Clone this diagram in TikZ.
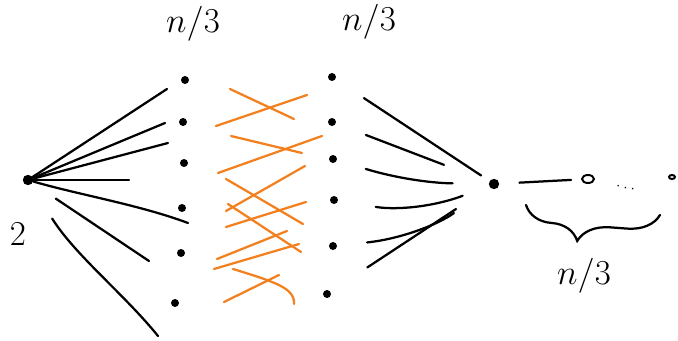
\documentclass[tikz,border=0pt]{standalone}
\usepackage{amsmath}
\usetikzlibrary{positioning, shapes.geometric, decorations.pathreplacing}
\definecolor{penorange}{RGB}{243,128,30}

\begin{document}
\begin{tikzpicture}[x=0.025cm, y=-0.025cm,
    pen/.style={line width=1.6pt, line cap=round},
    xline/.style={pen, penorange},
    dot/.style={circle, fill, inner sep=0pt, minimum size=0.2cm},
    hollow/.style={ellipse, draw, line width=1.4pt, inner sep=0pt, minimum width=0.3cm, minimum height=0.2cm},
    lbl/.style={font=\Huge}]
    \useasboundingbox (0,0) rectangle (678,341);

    % Source vertex
    \node (src) at (28,180) [dot, minimum size=0.26cm] {};
    \node (src-lbl) at (18,234) [lbl] {$2$};

    % Left layer, right layer
    \foreach \i/\x/\y in {1/185/80, 2/183/122, 3/184/163, 4/182/208, 5/181/253, 6/175/303}
        \node (a\i) at (\x,\y) [dot] {};
    \foreach \i/\x/\y in {1/332/77, 2/332/122, 3/333/159, 4/334/200, 5/333/246, 6/327/294}
        \node (b\i) at (\x,\y) [dot] {};
    \node (a-lbl) at (193,24) [lbl] {$n/3$};
    \node (b-lbl) at (369,22) [lbl] {$n/3$};

    % Fan out of the source
    \coordinate (f1) at (167,89);
    \coordinate (f2) at (165,123);
    \coordinate (f3) at (168,143);
    \coordinate (f4) at (129,180);
    \coordinate (f5) at (188,223);
    \coordinate (f6) at (149,261);
    \coordinate (f7) at (158,336);
    \draw[pen] (src) -- (f1);
    \draw[pen] (src) -- (f2);
    \draw[pen] (src) -- (f3);
    \draw[pen] (src) -- (f4);
    \draw[pen] (src) .. controls (80,195) and (140,205) .. (f5);
    \draw[pen, shorten <=0.7cm] (src) -- (f6);
    \draw[pen, shorten <=1cm] (src) .. controls (75,255) and (125,295) .. (f7);

    % Edges between the two layers
    \foreach \xa/\ya/\xb/\yb in {230/89/294/119, 216/126/307/95, 231/136/302/153,
                                 218/173/322/136, 226/179/303/224, 226/211/305/166,
                                 228/204/301/252, 226/227/306/202, 217/259/287/231,
                                 214/269/299/244, 224/302/279/275}
        \draw[xline] (\xa,\ya) -- (\xb,\yb);
    \draw[xline] (233,269) .. controls (275,282) and (295,288) .. (294,304);

    % Sink vertex
    \node (snk) at (494,184) [dot, minimum size=0.26cm] {};
    \draw[pen, shorten <=0.85cm, shorten >=0.25cm] (b1) -- (snk);
    \draw[pen, shorten <=0.8cm, shorten >=1.2cm] (b2) -- (snk);
    \draw[pen, shorten <=0.75cm, shorten >=0.9cm] (b3) to[bend right=8] (snk);
    \draw[pen, shorten <=0.95cm, shorten >=0.7cm] (b4) to[bend right=15] (snk);
    \draw[pen, shorten <=0.75cm, shorten >=1.1cm] (b5) to[bend right=15] (snk);
    \draw[pen, shorten <=1.1cm, shorten >=1cm] (b6) -- (snk);

    % Chain after the sink
    \node (nxt) at (588,179) [hollow] {};
    \node (dots) at (627,188) [rotate=-10, font=\large] {$\dots$};
    \node (far) at (672,177) [hollow, minimum width=0.15cm, minimum height=0.1cm] {};
    \draw[pen, shorten <=0.5cm, shorten >=0.25cm] (snk) -- (nxt);
    \coordinate (bl) at (526,205);
    \coordinate (br) at (660,215);
    \draw[pen, decorate, decoration={brace, mirror, amplitude=0.8cm, aspect=0.4}] (bl) -- (br);
    \node (k-lbl) at (584,276) [lbl] {$n/3$};
\end{tikzpicture}
\end{document}
